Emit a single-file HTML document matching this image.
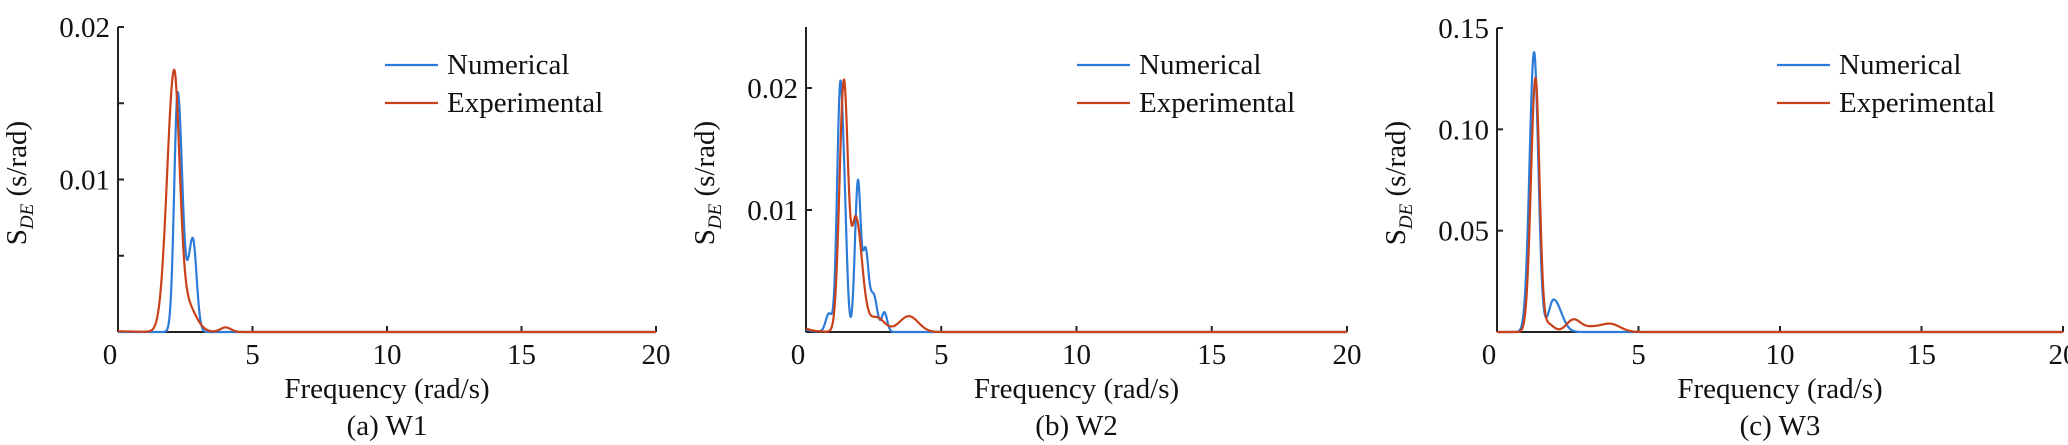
<!DOCTYPE html>
<html><head><meta charset="utf-8">
<style>
html,body{margin:0;padding:0;background:#fff;}
svg{display:block;}
text{font-family:"Liberation Serif",serif;fill:#111;}
</style></head>
<body>
<svg id="s" width="2068" height="445" xmlns="http://www.w3.org/2000/svg"></svg>
<script>
const NS="http://www.w3.org/2000/svg";
const svg=document.getElementById('s');
function el(t,a,txt){const e=document.createElementNS(NS,t);for(const k in a)e.setAttribute(k,a[k]);if(txt!==undefined)e.textContent=txt;svg.appendChild(e);return e;}
function g(x,mu,A,sl,sr){const s=(x<mu)?sl:(sr||sl);return A*Math.exp(-(x-mu)*(x-mu)/(2*s*s));}
const panels=[
 {x0:118,x1:656,y0:332,ytop:27,ymax:0.02,yt:[[0.01,'0.01'],[0.02,'0.02']],ym:[0.005,0.015],
  cap:'(a) W1',lx:385,
  num:x=>g(x,2.22,0.0157,0.13,0.17)+g(x,2.78,0.0061,0.17,0.14),
  exp:x=>g(x,2.08,0.0162,0.26,0.2)+g(x,2.5,0.002,0.35,0.35)+g(x,4.0,0.0003,0.2)+0.00005*Math.exp(-x)},
 {x0:806,x1:1347,y0:332,ytop:27,ymax:0.025,yt:[[0.01,'0.01'],[0.02,'0.02']],ym:[],
  cap:'(b) W2',lx:1077,
  num:x=>g(x,0.85,0.0015,0.12)+g(x,1.25,0.018,0.11,0.1)+g(x,1.42,0.009,0.1,0.1)+g(x,1.92,0.0122,0.11,0.1)+g(x,2.2,0.0065,0.11)+g(x,2.5,0.003,0.13)+g(x,2.9,0.0016,0.1)+0.0002*Math.exp(-x/0.3),
  exp:x=>g(x,1.4,0.0205,0.16,0.15)+g(x,1.85,0.0092,0.16,0.22)+g(x,2.6,0.0012,0.3)+g(x,3.8,0.0013,0.35)+0.0003*Math.exp(-x/0.3)},
 {x0:1497,x1:2063,y0:332,ytop:28,ymax:0.15,yt:[[0.05,'0.05'],[0.10,'0.10'],[0.15,'0.15']],ym:[],
  cap:'(c) W3',lx:1777,
  num:x=>g(x,1.31,0.138,0.16,0.15)+g(x,2.0,0.016,0.17,0.27),
  exp:x=>g(x,1.36,0.125,0.16,0.14)+g(x,1.8,0.004,0.2)+g(x,2.7,0.006,0.25)+g(x,4.0,0.004,0.35)+g(x,3.3,0.002,0.3)}
];
for(const p of panels){
  const sx=x=>p.x0+(p.x1-p.x0)*x/20;
  const sy=v=>p.y0-(p.y0-p.ytop)*v/p.ymax;
  el('line',{x1:p.x0,y1:p.ytop,x2:p.x0,y2:p.y0,stroke:'#222','stroke-width':2});
  el('line',{x1:p.x0,y1:p.y0,x2:p.x1,y2:p.y0,stroke:'#222','stroke-width':2});
  for(const t of [5,10,15,20]){el('line',{x1:sx(t),y1:p.y0,x2:sx(t),y2:p.y0-6,stroke:'#222','stroke-width':2});}
  for(const [v,l] of p.yt){el('line',{x1:p.x0,y1:sy(v),x2:p.x0+6,y2:sy(v),stroke:'#222','stroke-width':2});
    el('text',{x:p.x0-8,y:sy(v)+10,'font-size':29,'text-anchor':'end'},l);}
  for(const v of p.ym){el('line',{x1:p.x0,y1:sy(v),x2:p.x0+6,y2:sy(v),stroke:'#222','stroke-width':2});}
  for(const t of [0,5,10,15,20]){el('text',{x:sx(t)-(t==0?8:0),y:364,'font-size':29,'text-anchor':'middle'},String(t));}
  const cx=(p.x0+p.x1)/2;
  el('text',{x:cx,y:398,'font-size':29,'text-anchor':'middle'},'Frequency (rad/s)');
  el('text',{x:cx,y:435,'font-size':29,'text-anchor':'middle'},p.cap);
  const yl=el('text',{transform:`translate(${p.x0-92},183) rotate(-90)`,'font-size':29,'text-anchor':'middle'});
  yl.innerHTML='S<tspan font-size="19" font-style="italic" dy="7">DE</tspan><tspan dy="-7"> (s/rad)</tspan>';
  for(const [f,c] of [[p.num,'#2d7bd8'],[p.exp,'#c9411b']]){
    let d='';for(let i=0;i<=4000;i++){const x=i*20/4000;d+=(i?'L':'M')+sx(x).toFixed(2)+' '+sy(f(x)).toFixed(2);}
    el('path',{d:d,fill:'none',stroke:c,'stroke-width':2.2});
  }
  el('line',{x1:p.lx,y1:65,x2:p.lx+53,y2:65,stroke:'#2d7bd8','stroke-width':2.2});
  el('line',{x1:p.lx,y1:103,x2:p.lx+53,y2:103,stroke:'#c9411b','stroke-width':2.2});
  el('text',{x:p.lx+62,y:74,'font-size':29},'Numerical');
  el('text',{x:p.lx+62,y:112,'font-size':29},'Experimental');
}
</script>
</body></html>
